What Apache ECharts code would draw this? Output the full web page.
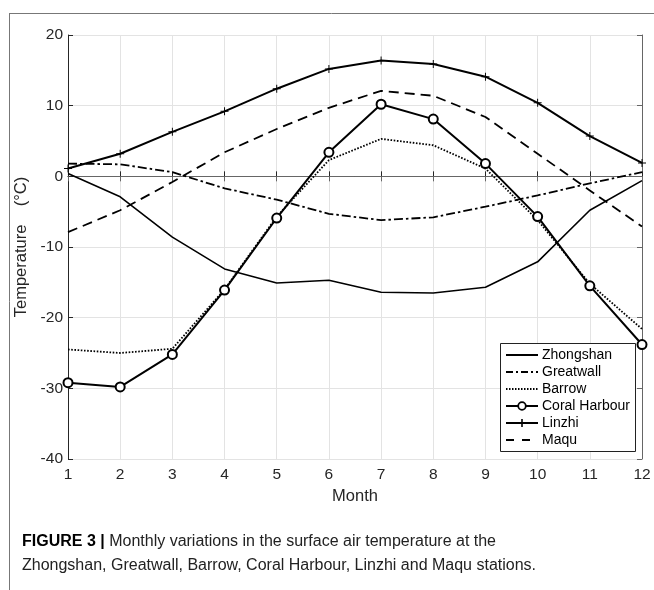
<!DOCTYPE html>
<html><head><meta charset="utf-8">
<script src="https://cdn.jsdelivr.net/npm/echarts@6/dist/echarts.min.js"></script>
<style>html,body{margin:0;padding:0;background:#fff}#c{width:654px;height:590px}</style>
</head><body><div id="c"></div>
<script>
const months = ['1','2','3','4','5','6','7','8','9','10','11','12'];
const yTicks = [-40,-30,-20,-10,0,10,20];
const seriesNames = ['Zhongshan','Greatwall','Barrow','Coral Harbour','Linzhi','Maqu'];
const zhongshan = [0.4,-2.9,-8.6,-13.1,-15.1,-14.7,-16.4,-16.5,-15.7,-12.1,-4.8,-0.6];
const greatwall = [1.8,1.7,0.6,-1.7,-3.3,-5.3,-6.2,-5.8,-4.3,-2.7,-1.0,0.6];
const barrow = [-24.5,-25.0,-24.4,-16.0,-5.7,2.3,5.3,4.4,1.1,-6.2,-15.2,-21.6];
const coralHarbour = [-29.2,-29.8,-25.2,-16.1,-5.9,3.4,10.2,8.1,1.8,-5.7,-15.5,-23.8];
const linzhi = [1.1,3.2,6.3,9.2,12.4,15.2,16.4,15.9,14.1,10.4,5.7,1.9];
const maqu = [-7.9,-4.8,-0.8,3.4,6.7,9.7,12.1,11.4,8.4,3.2,-2.0,-7.1];

const FONT = '"Liberation Sans", Helvetica, Arial, sans-serif';
const AX = '#262626';
const plus = 'path://M-0.12,-1H0.12V1H-0.12Z M-1,-0.12H1V0.12H-1Z';
const styles = {
  'Zhongshan':     {dash:null,        w:1.6},
  'Greatwall':     {dash:[9,3,2.5,3], w:1.8},
  'Barrow':        {dash:[1.6,1.6],   w:1.8},
  'Coral Harbour': {dash:null,        w:2, sym:'emptyCircle', size:9},
  'Linzhi':        {dash:null,        w:2, sym:plus, size:8},
  'Maqu':          {dash:[10,6],      w:1.8}
};
const values = [zhongshan, greatwall, barrow, coralHarbour, linzhi, maqu];

const chart = echarts.init(document.getElementById('c'), null, {renderer:'canvas'});
const series = seriesNames.map((n,i) => {
  const s = styles[n];
  return {
    name:n, type:'line', data:values[i], animation:false, z:3,
    lineStyle:{color:'#000', width:s.w, type: s.dash || 'solid'},
    symbol: s.sym || 'none', symbolSize: s.size || 0, showSymbol: !!s.sym,
    itemStyle:{color:'#000', borderColor:'#000', borderWidth: s.sym==='emptyCircle' ? 1.8 : 0}
  };
});

// legend drawn as graphic (line samples with dash styles)
const LX = 500.5, LY = 343.5, LW = 135, LH = 108, ROW = 17, Y0 = 355;
const legendEls = [{type:'rect', shape:{x:LX, y:LY, width:LW, height:LH}, style:{fill:'#fff', stroke:'#222', lineWidth:1}, z:10}];
seriesNames.forEach((n,i) => {
  const s = styles[n], y = Y0 + ROW*i;
  legendEls.push({type:'line', shape:{x1:506, y1:y, x2:538, y2:y},
    style:{stroke:'#000', lineWidth:2, lineDash: s.dash ? (n==='Maqu' ? [8,8] : (n==='Barrow' ? [1.5,1.5] : [7,3,2,3])) : null}, z:11});
  if (s.sym === 'emptyCircle') {
    legendEls.push({type:'circle', shape:{cx:522, cy:y, r:3.8}, style:{fill:'#fff', stroke:'#000', lineWidth:1.8}, z:12});
  } else if (s.sym) {
    legendEls.push({type:'rect', shape:{x:521.2, y:y-4, width:1.6, height:8}, style:{fill:'#000'}, z:12});
  }
  legendEls.push({type:'text', x:542, y:y, style:{text:n, font:'14px '+FONT, fill:'#000', verticalAlign:'middle', textAlign:'left'}, z:12});
});

chart.setOption({
  animation:false,
  backgroundColor:'#fff',
  grid:{left:68, right:12, top:35, bottom:131, show:false},
  xAxis:[{
    type:'category', data:months, boundaryGap:false,
    name:'Month', nameLocation:'middle', nameGap:27,
    nameTextStyle:{fontFamily:FONT, fontSize:16.5, color:AX},
    axisLine:{show:true, lineStyle:{color:AX, width:1}},
    axisTick:{show:true, inside:true, length:5, lineStyle:{color:AX}},
    axisLabel:{fontFamily:FONT, fontSize:15.5, color:AX, margin:8},
    splitLine:{show:true, lineStyle:{color:'#e3e3e3', width:1}}
  },{
    type:'category', data:months, boundaryGap:false, position:'top',
    axisLine:{show:true, lineStyle:{color:'#666', width:1}},
    axisTick:{show:true, inside:true, length:5, lineStyle:{color:'#666'}},
    axisLabel:{show:false}, splitLine:{show:false}
  }],
  yAxis:[{
    type:'value', min:-40, max:20, interval:10,
    name:'Temperature    (°C)', nameLocation:'middle', nameGap:31,
    nameTextStyle:{fontFamily:FONT, fontSize:16.5, color:AX},
    axisLine:{show:true, lineStyle:{color:AX, width:1}},
    axisTick:{show:true, inside:true, length:5, lineStyle:{color:AX}},
    axisLabel:{fontFamily:FONT, fontSize:15.5, color:AX, margin:5,
      formatter: v => yTicks.includes(v) ? String(v) : ''},
    splitLine:{show:true, lineStyle:{color:'#e3e3e3', width:1}}
  },{
    type:'value', min:-40, max:20, interval:10, position:'right',
    axisLine:{show:true, lineStyle:{color:'#666', width:1}},
    axisTick:{show:true, inside:true, length:5, lineStyle:{color:'#666'}},
    axisLabel:{show:false}, splitLine:{show:false}
  }],
  series: series,
  graphic:[
    {type:'line', shape:{x1:9, y1:13.5, x2:654, y2:13.5}, style:{stroke:'#777', lineWidth:1}},
    {type:'line', shape:{x1:9.5, y1:13, x2:9.5, y2:590}, style:{stroke:'#777', lineWidth:1}},
    {type:'text', left:22, top:530, style:{
      text:'{b|FIGURE 3 |} Monthly variations in the surface air temperature at the\nZhongshan, Greatwall, Barrow, Coral Harbour, Linzhi and Maqu stations.',
      font:'16px "Liberation Sans", sans-serif', fill:'#222', lineHeight:24,
      rich:{b:{fontWeight:'bold', fontFamily:'"Liberation Sans", sans-serif', fontSize:16, fill:'#000'}}
    }}
  ].concat(legendEls)
});
</script></body></html>
